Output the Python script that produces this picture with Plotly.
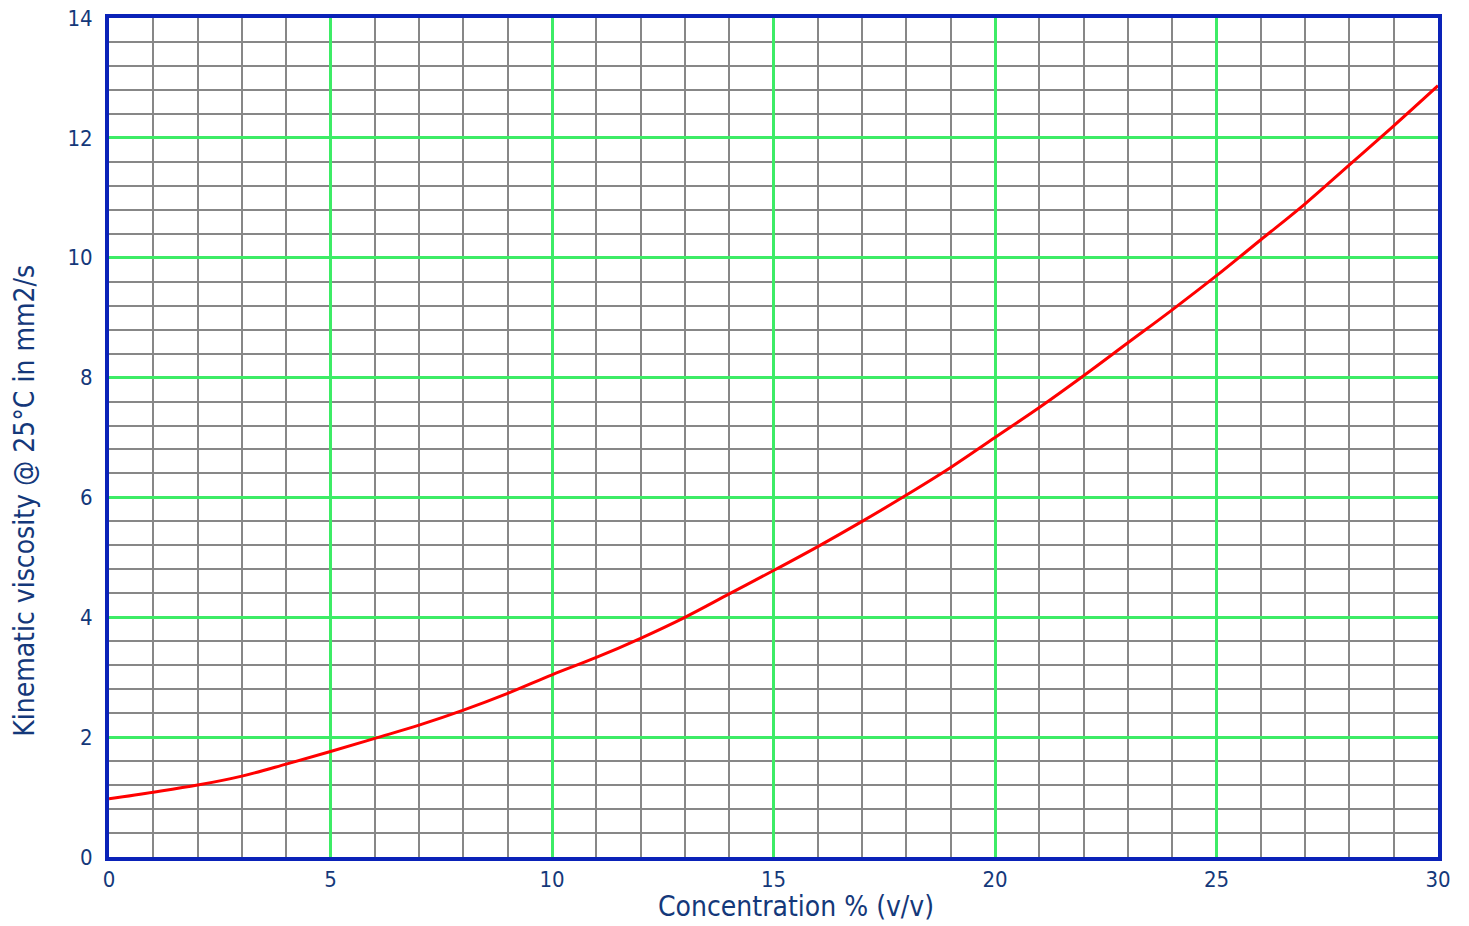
import plotly.graph_objects as go

concentration = list(range(0, 31))
viscosity = [0.97, 1.08, 1.2, 1.35, 1.55, 1.76, 1.98, 2.2, 2.45, 2.73, 3.04,
             3.33, 3.65, 4.0, 4.39, 4.78, 5.18, 5.6, 6.04, 6.5, 7.0,
             7.5, 8.03, 8.58, 9.13, 9.7, 10.3, 10.9, 11.55, 12.2, 12.87]

x_ticks = [0, 5, 10, 15, 20, 25, 30]
y_ticks = [0, 2, 4, 6, 8, 10, 12, 14]
x_title = "Concentration % (v/v)"
y_title = "Kinematic viscosity @ 25°C in mm2/s"

FONT = "DejaVu Sans Condensed, Liberation Sans Narrow, Roboto, sans-serif"
TXT = "#14387a"
BLUE = "#0a22b8"
GREEN = "#3dec66"
GRAY = "#878787"

fig = go.Figure()
fig.add_trace(go.Scatter(x=concentration, y=viscosity, mode="lines",
                         line=dict(color="#ff0000", width=3, shape="spline"),
                         showlegend=False, hoverinfo="x+y"))

fig.update_layout(
    width=1469, height=926,
    margin=dict(l=101, r=39, t=10, b=77),
    paper_bgcolor="white", plot_bgcolor="white",
    font=dict(family=FONT, color=TXT, size=22),
)
fig.update_xaxes(
    range=[0, 30], tickvals=x_ticks, ticks="", ticklen=0, automargin=False,
    ticklabeloverflow="allow",
    showgrid=True, gridcolor=GREEN, gridwidth=3,
    minor=dict(dtick=1, showgrid=True, gridcolor=GRAY, gridwidth=2),
    showline=True, linecolor=BLUE, linewidth=4, mirror=True, zeroline=False,
    tickfont=dict(family=FONT, size=22, color=TXT),
)
fig.update_yaxes(
    range=[0, 14], tickvals=y_ticks, ticks="", ticklen=0, automargin=False,
    ticklabelstandoff=8, ticklabeloverflow="allow",
    showgrid=True, gridcolor=GREEN, gridwidth=3,
    minor=dict(dtick=0.4, showgrid=True, gridcolor=GRAY, gridwidth=2),
    showline=True, linecolor=BLUE, linewidth=4, mirror=True, zeroline=False,
    tickfont=dict(family=FONT, size=22, color=TXT),
)
fig.add_annotation(text=x_title, xref="paper", yref="paper", x=0.517, y=-0.0595,
                   xanchor="center", yanchor="middle", showarrow=False,
                   font=dict(family=FONT, size=28, color=TXT))
fig.add_annotation(text=y_title, xref="paper", yref="paper", x=-0.0632, y=0.4245,
                   xanchor="center", yanchor="middle", textangle=-90, showarrow=False,
                   font=dict(family=FONT, size=28, color=TXT))

fig.write_html("out.html")
